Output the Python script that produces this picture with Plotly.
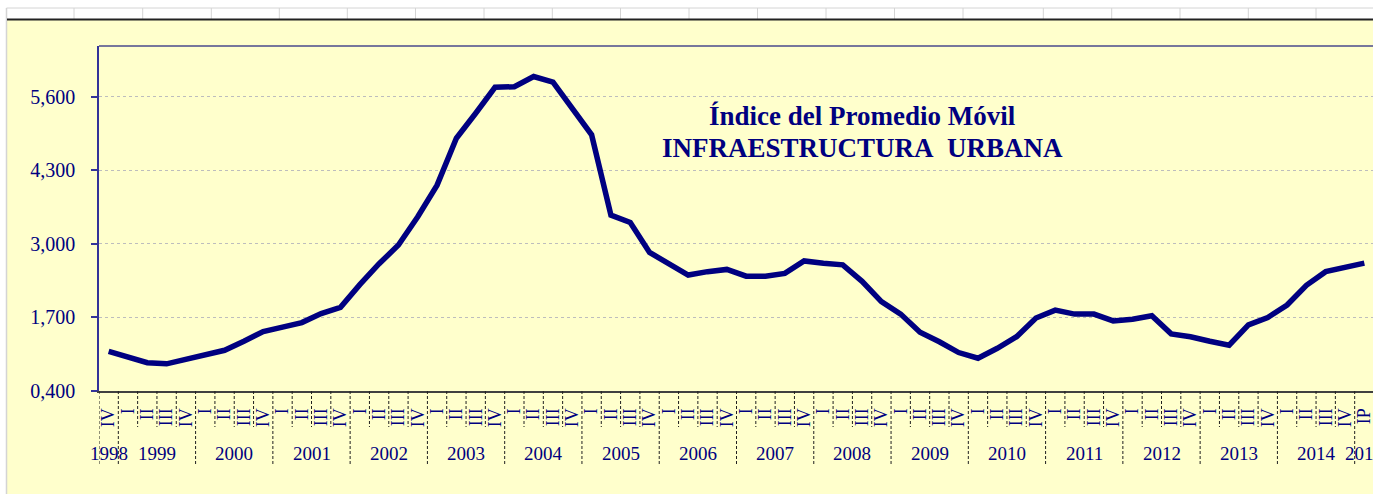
import plotly.graph_objects as go

# ---------------- data ----------------
years = ["1998", "1999", "2000", "2001", "2002", "2003", "2004", "2005", "2006",
         "2007", "2008", "2009", "2010", "2011", "2012", "2013", "2014", "2015"]
quarter_names = ["I", "II", "III", "IV"]
# quarter labels: 1998 IV ... 2014 IV, 2015 IP (preliminary)
quarter_labels = ["IV"] + quarter_names * 16 + ["IP"]
quarter_years = ["1998"] + [y for y in years[1:17] for _ in range(4)] + ["2015"]

values = [1.10, 1.00, 0.90, 0.88, 0.96, 1.04, 1.12, 1.28, 1.45, 1.53,
          1.61, 1.77, 1.88, 2.28, 2.65, 2.98, 3.48, 4.04, 4.87, 5.31,
          5.77, 5.78, 5.96, 5.86, 5.40, 4.93, 3.51, 3.38, 2.85, 2.66,
          2.45, 2.51, 2.55, 2.43, 2.43, 2.48, 2.70, 2.66, 2.63, 2.34,
          1.98, 1.76, 1.44, 1.27, 1.08, 0.98, 1.155, 1.36, 1.69, 1.83,
          1.76, 1.76, 1.64, 1.67, 1.73, 1.41, 1.36, 1.28, 1.21, 1.57,
          1.70, 1.92, 2.27, 2.51, 2.58, 2.66]

y_ticks = [0.4, 1.7, 3.0, 4.3, 5.6]
title_lines = ["Índice del Promedio Móvil", "INFRAESTRUCTURA\u00a0 URBANA"]

# ---------------- layout geometry ----------------
W, H = 1373, 494
L, T, B_PIX = 99, 46, 391
PW = W - L
PH = B_PIX - T

def px(x):
    return (x - L) / PW

def py(y):
    return (B_PIX - y) / PH

NAVY = "#000080"
FONT = "Liberation Serif"

xs = list(range(len(values)))

fig = go.Figure()
fig.add_trace(go.Scatter(x=xs, y=values, mode="lines",
                         line=dict(color=NAVY, width=5.5),
                         hoverinfo="skip", showlegend=False))

shapes = []
# yellow chart area background
shapes.append(dict(type="rect", xref="paper", yref="paper", layer="below",
                   x0=px(7), x1=px(W + 5), y0=py(H + 5), y1=py(19),
                   fillcolor="#FFFFCC", line=dict(width=0)))
# spreadsheet cell grid at top
shapes.append(dict(type="line", xref="paper", yref="paper", layer="below",
                   x0=px(6.5), x1=px(W + 5), y0=py(8), y1=py(8),
                   line=dict(color="#d4d4d4", width=1)))
shapes.append(dict(type="line", xref="paper", yref="paper", layer="below",
                   x0=px(6.5), x1=px(6.5), y0=py(8), y1=py(H + 5),
                   line=dict(color="#d4d4d4", width=1.5)))
cell_x = [74, 142.7, 211.3, 279.3, 347.3, 415.5, 484, 552.3, 620.5, 689,
          757.5, 826, 894.5, 963, 1043.3, 1111.7, 1180, 1248.3, 1316]
for cx in cell_x:
    shapes.append(dict(type="line", xref="paper", yref="paper", layer="below",
                       x0=px(cx), x1=px(cx), y0=py(8), y1=py(19),
                       line=dict(color="#d4d4d4", width=1)))
# dark line at top of chart area
shapes.append(dict(type="line", xref="paper", yref="paper", layer="below",
                   x0=px(7), x1=px(W + 5), y0=py(19.5), y1=py(19.5),
                   line=dict(color="#222222", width=2)))
# top border of plot area
shapes.append(dict(type="line", xref="paper", yref="paper", layer="above",
                   x0=0, x1=1.02, y0=1, y1=1,
                   line=dict(color="#4a4a8c", width=1.5)))

# category separators below the axis
year_bounds = set([-0.5, 0.5] + [0.5 + 4 * k for k in range(1, 17)])
for i in range(len(values) + 1):
    b = i - 0.5
    long_ = b in year_bounds
    shapes.append(dict(type="line", xref="x", yref="paper", layer="above",
                       x0=b, x1=b, y0=0, y1=py(466 if long_ else 427),
                       line=dict(color="#202020", width=1, dash="3px,2px")))

annotations = []
# year labels
for yr in years:
    idx = [i for i, q in enumerate(quarter_years) if q == yr]
    cx = (idx[0] + idx[-1]) / 2
    annotations.append(dict(x=cx, y=py(453), xref="x", yref="paper",
                            text=yr, showarrow=False, xanchor="center",
                            yanchor="middle",
                            font=dict(family=FONT, size=19, color=NAVY)))
# title
annotations.append(dict(x=px(862.5), y=py(116), xref="paper", yref="paper",
                        text="<b>" + title_lines[0] + "</b>", showarrow=False,
                        xanchor="center", yanchor="middle",
                        font=dict(family=FONT, size=27, color=NAVY)))
annotations.append(dict(x=px(862.5), y=py(148), xref="paper", yref="paper",
                        text="<b>" + title_lines[1] + "</b>", showarrow=False,
                        xanchor="center", yanchor="middle",
                        font=dict(family=FONT, size=27, color=NAVY)))

fig.update_layout(
    width=W, height=H,
    margin=dict(l=L, r=0, t=T, b=H - B_PIX, pad=0),
    paper_bgcolor="white",
    plot_bgcolor="rgba(0,0,0,0)",
    separators=",.",
    shapes=shapes,
    annotations=annotations,
    showlegend=False,
    xaxis=dict(
        range=[-0.5, len(values) - 0.5 - 1.0 / 19.32],
        tickmode="array", tickvals=xs, ticktext=quarter_labels,
        tickangle=-90, ticks="", showgrid=False, zeroline=False,
        showline=True, linecolor="#404040", linewidth=2,
        tickfont=dict(family=FONT, size=18, color=NAVY),
        ticklabelstandoff=8, ticklabeloverflow="allow",
    ),
    yaxis=dict(
        range=[0.4, 6.5],
        tickmode="array", tickvals=y_ticks, tickformat=".3f",
        ticks="outside", ticklen=6, tickcolor="#333399", tickwidth=1.5,
        showgrid=True, gridcolor="#bdbdbd", gridwidth=1, griddash="3px,3px",
        zeroline=False, showline=True, linecolor="#333399", linewidth=1.5,
        tickfont=dict(family=FONT, size=20, color=NAVY),
        ticklabelstandoff=12,
    ),
)

fig.write_html(
    "out.html",
    config={"displayModeBar": False},
    post_script="document.body.style.margin='0';document.body.style.overflow='hidden';",
)
